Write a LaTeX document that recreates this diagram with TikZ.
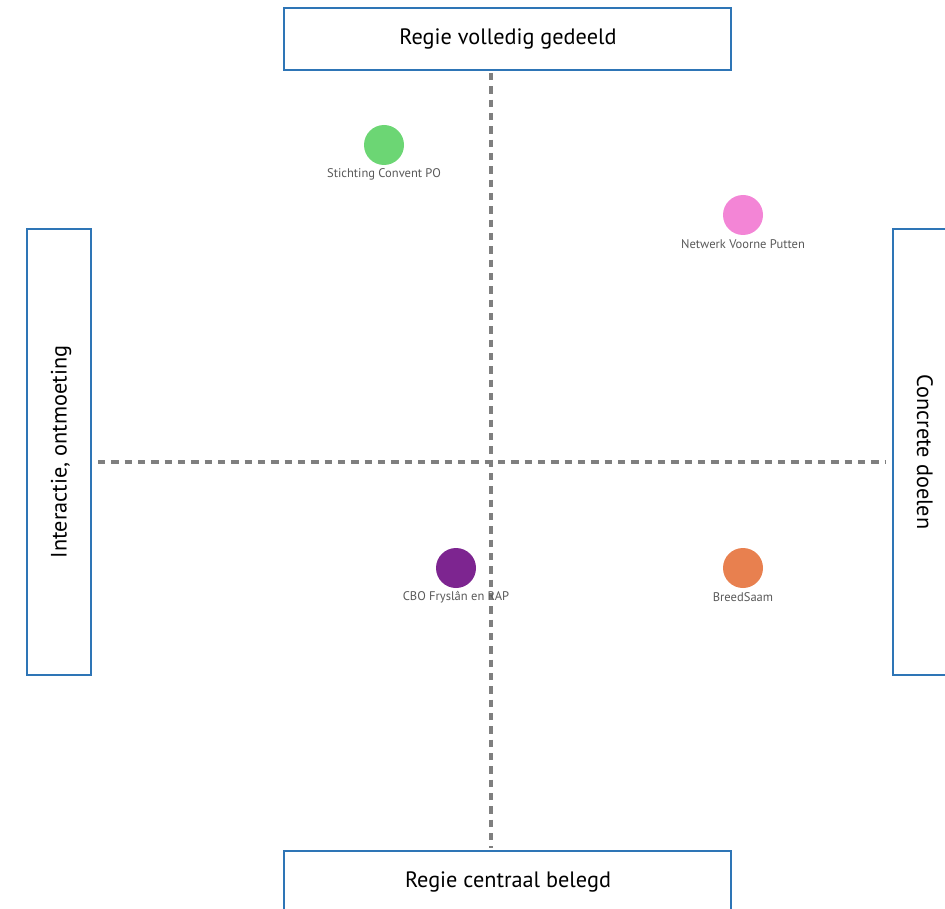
\documentclass[tikz,border=0pt]{standalone}
\usepackage{fontspec}
\setmainfont{PT Sans}
\definecolor{boxblue}{HTML}{2E75B6}
\definecolor{dashgray}{HTML}{7F7F7F}
\definecolor{cgreen}{HTML}{6CD674}
\definecolor{cpink}{HTML}{F385D6}
\definecolor{cpurple}{HTML}{7D2590}
\definecolor{corange}{HTML}{E8804F}
\definecolor{labgray}{HTML}{595959}
\begin{document}
\begin{tikzpicture}[x=0.75pt,y=-0.75pt,
  axisbox/.style={draw=boxblue,line width=1.1pt,fill=white,inner sep=0pt},
  axistext/.style={font=\fontsize{16.7pt}{19pt}\selectfont,text=black},
  axisline/.style={draw=dashgray,line width=3pt,dash pattern=on 5.5pt off 4.5pt},
  dot/.style={circle,minimum size=30pt,inner sep=0pt},
  dotlabel/.style={font=\fontsize{9.4pt}{11pt}\selectfont,text=labgray,inner sep=0pt}]
\useasboundingbox (0,0) rectangle (945,909);
\clip (0,0) rectangle (945,909);
% axes
\coordinate (vtop) at (491,73);
\coordinate (vbot) at (491,848);
\coordinate (hleft) at (98,462);
\coordinate (hright) at (886,462);
\draw[axisline] (vtop) -- (vbot);
\draw[axisline] (hleft) -- (hright);
% boxes
\draw[axisbox] (284,8) rectangle (731,70);
\node[axistext] (top) at (508,39) {Regie volledig gedeeld};
\draw[axisbox] (284,851) rectangle (731,920);
\node[axistext] (bottom) at (508,882) {Regie centraal belegd};
\draw[axisbox] (27,229) rectangle (91,675);
\node[axistext,rotate=90] (left) at (61,452) {Interactie, ontmoeting};
\draw[axisbox] (893,229) rectangle (960,675);
\node[axistext,rotate=-90] (right) at (925,452) {Concrete doelen};
% points
\node[dot,fill=cgreen] (p1) at (384,145) {};
\node[dotlabel] (l1) at (384,174) {Stichting Convent PO};
\node[dot,fill=cpink] (p2) at (743,215) {};
\node[dotlabel] (l2) at (743,244) {Netwerk Voorne Putten};
\node[dot,fill=cpurple] (p3) at (456,568) {};
\node[dotlabel] (l3) at (456,597) {CBO Fryslân en RAP};
\node[dot,fill=corange] (p4) at (743,568) {};
\node[dotlabel] (l4) at (743,597) {BreedSaam};
\end{tikzpicture}
\end{document}
